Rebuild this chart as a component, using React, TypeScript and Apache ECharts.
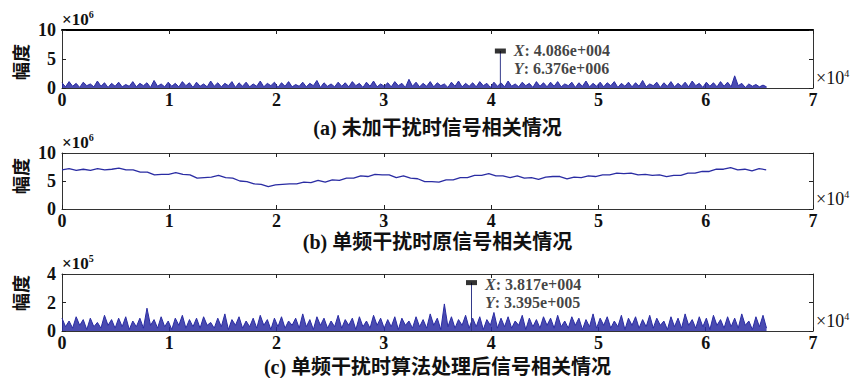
import React, { useEffect, useRef } from "react";
import * as echarts from "echarts";

// x sample step (units of 10^4) for the dense correlation traces
const DENSE_STEP = 0.033;
const SLOW_STEP = 0.0663;

// (a) correlation without interference, units of 10^6
const traceA = [
  0.9, 0.2, 1.1, 0.3, 0.8, 0.1, 1.0, 0.4, 0.7, 0.2, 1.2, 0.3, 0.9, 0.1, 0.8, 0.3, 1.0, 0.2, 0.6, 0.3,
  1.1, 0.2, 0.8, 0.4, 0.9, 0.1, 1.3, 0.3, 0.7, 0.2, 1.0, 0.3, 0.8, 0.2, 1.1, 0.4, 0.9, 0.1, 1.0, 0.3,
  0.7, 0.2, 1.2, 0.3, 0.9, 0.2, 0.8, 0.4, 1.1, 0.1, 0.9, 0.3, 1.0, 0.2, 0.7, 0.3, 1.2, 0.2, 0.8, 0.4,
  1.0, 0.1, 0.9, 0.3, 1.1, 0.2, 0.6, 0.3, 1.0, 0.2, 0.8, 0.4, 1.3, 0.1, 0.9, 0.3, 0.7, 0.2, 1.0, 0.3,
  0.9, 0.2, 1.1, 0.4, 0.8, 0.1, 1.0, 0.3, 1.2, 0.2, 0.7, 0.3, 0.9, 0.2, 1.1, 0.4, 0.8, 0.1, 1.5, 0.3,
  1.0, 0.2, 0.8, 0.3, 1.1, 0.2, 0.9, 0.4, 0.7, 0.1, 1.0, 0.3, 1.2, 0.2, 0.8, 0.3, 0.9, 0.2, 1.1, 0.4,
  0.8, 0.1, 1.0, 0.3, 0.9, 0.2, 1.2, 0.3, 0.7, 0.2, 1.0, 0.4, 0.8, 0.1, 1.1, 0.3, 0.9, 0.2, 1.0, 0.3,
  1.1, 0.2, 0.7, 0.4, 1.0, 0.1, 0.9, 0.3, 1.2, 0.2, 0.8, 0.3, 1.0, 0.2, 0.9, 0.4, 1.1, 0.1, 0.8, 0.3,
  1.0, 0.2, 0.9, 0.3, 1.3, 0.2, 0.7, 0.4, 1.0, 0.1, 0.9, 0.3, 1.1, 0.2, 0.8, 0.3, 1.0, 0.2, 1.2, 0.4,
  0.8, 0.1, 1.0, 0.3, 0.9, 0.2, 1.1, 0.3, 1.0, 0.2, 2.1, 0.4, 0.8, 0.1, 0.7, 0.3, 0.6, 0.2, 0.5, 0.2,
];

// (b) single-tone interference, original signal correlation, units of 10^6
const traceB = [
  7.0, 7.2, 6.9, 7.1, 6.9, 7.2, 7.0, 7.1, 7.3, 7.0,
  7.0, 6.6, 6.6, 6.1, 6.2, 6.2, 6.5, 6.2, 6.1, 5.5,
  5.6, 5.7, 6.0, 5.6, 5.5, 5.0, 4.9, 4.5, 4.4, 4.0,
  4.3, 4.4, 4.5, 4.5, 4.8, 4.7, 5.1, 4.8, 5.2, 5.1,
  5.5, 5.5, 5.9, 5.8, 6.2, 6.1, 6.1, 5.6, 5.9, 5.5,
  5.4, 4.9, 4.9, 4.8, 5.2, 5.2, 5.6, 5.6, 6.0, 6.0,
  6.3, 5.9, 5.9, 5.6, 5.9, 5.5, 5.6, 5.3, 5.7, 5.8,
  5.8, 5.4, 5.7, 5.6, 5.9, 5.8, 6.1, 6.1, 6.4, 6.3,
  6.4, 6.1, 6.2, 6.0, 6.1, 5.8, 6.0, 6.0, 6.4, 6.4,
  6.7, 6.7, 7.1, 7.1, 7.4, 7.0, 7.1, 6.8, 7.2, 7.0,
];

// (c) after algorithm processing, units of 10^5
const traceC = [
  0.9, 0.3, 0.7, 0.2, 1.0, 0.4, 0.8, 0.1, 0.9, 0.3, 0.6, 0.2, 1.1, 0.4, 0.8, 0.2, 0.9, 0.3, 1.0, 0.1,
  0.7, 0.3, 0.9, 0.2, 1.6, 0.4, 0.8, 0.2, 1.0, 0.3, 0.7, 0.1, 0.9, 0.4, 1.1, 0.2, 0.8, 0.3, 0.9, 0.2,
  1.0, 0.4, 0.6, 0.2, 0.9, 0.3, 1.2, 0.1, 0.8, 0.4, 1.0, 0.2, 0.7, 0.3, 0.9, 0.2, 1.1, 0.4, 0.8, 0.1,
  0.9, 0.3, 1.0, 0.2, 0.7, 0.4, 0.9, 0.2, 1.2, 0.3, 0.8, 0.1, 1.0, 0.4, 0.9, 0.2, 0.7, 0.3, 1.1, 0.2,
  0.8, 0.4, 0.9, 0.1, 1.0, 0.3, 0.7, 0.2, 1.1, 0.4, 0.9, 0.2, 0.8, 0.3, 1.0, 0.1, 0.9, 0.4, 0.7, 0.2,
  1.0, 0.3, 0.8, 0.2, 1.2, 0.4, 0.9, 0.1, 1.9, 0.3, 1.0, 0.2, 0.8, 0.4, 1.1, 0.2, 0.9, 0.3, 1.0, 0.1,
  0.8, 0.4, 1.3, 0.2, 0.9, 0.3, 1.0, 0.2, 0.7, 0.4, 1.1, 0.1, 0.9, 0.3, 0.8, 0.2, 1.0, 0.4, 0.9, 0.2,
  1.1, 0.3, 0.7, 0.2, 1.0, 0.4, 0.9, 0.1, 0.8, 0.3, 1.2, 0.2, 0.9, 0.4, 1.0, 0.2, 0.7, 0.3, 1.1, 0.1,
  0.9, 0.4, 1.0, 0.2, 0.8, 0.3, 1.1, 0.2, 0.9, 0.4, 0.7, 0.1, 1.0, 0.3, 0.9, 0.2, 1.2, 0.4, 0.8, 0.2,
  1.0, 0.3, 0.9, 0.1, 1.1, 0.4, 0.8, 0.2, 1.0, 0.3, 0.9, 0.2, 1.2, 0.4, 0.7, 0.1, 1.0, 0.3, 1.1, 0.2,
];

// data tips (raw units)
const tipA = [40860, 6376000];
const tipC = [38170, 339500];

const xTicks = ["0", "1", "2", "3", "4", "5", "6", "7"];
const titles = [
  "(a) 未加干扰时信号相关情况",
  "(b) 单频干扰时原信号相关情况",
  "(c) 单频干扰时算法处理后信号相关情况",
];
const yMax = [10, 10, 4];
const yInterval = [5, 5, 2];
const yExp = ["6", "6", "5"];
const yScale = [1e6, 1e6, 1e5];
const xScale = 1e4;
const yName = "幅度";

const BLUE = "#2a2ca3";
const SERIF = "'Liberation Serif', 'Times New Roman', serif";
const CJK = "'Liberation Serif', 'Noto Sans CJK SC', serif";

const grids = [
  { top: 30, height: 58 },
  { top: 153, height: 56 },
  { top: 274, height: 57 },
];
const LEFT = 62;
const RIGHT_EDGE = 813;

function matlabExp(v: number) {
  const [m, e] = v.toExponential(3).split("e");
  const sign = e[0];
  return m + "e" + sign + e.slice(1).padStart(3, "0");
}

function App() {
  const ref = useRef<HTMLDivElement>(null);
  useEffect(() => {
    if (!ref.current) return;
    const chart = echarts.init(ref.current, undefined, { renderer: "svg" });

    const xAxes: any[] = [];
    const yAxes: any[] = [];
    grids.forEach((g, k) => {
      const common = {
        type: "value",
        gridIndex: k,
        min: 0,
        max: 7,
        interval: 1,
        splitLine: { show: false },
        axisTick: { inside: true, length: 4, lineStyle: { color: "#222" } },
      };
      xAxes.push({
        ...common,
        position: "bottom",
        axisLine: { onZero: false, lineStyle: { color: "#333", width: 1 } },
        axisLabel: {
          margin: 5,
          color: "#111",
          fontFamily: SERIF,
          fontWeight: "bold",
          fontSize: 18,
          lineHeight: 14,
          formatter: (v: number) => xTicks[Math.round(v)] ?? "",
        },
      });
      xAxes.push({
        ...common,
        position: "top",
        axisLine: { onZero: false, lineStyle: { color: k === 0 ? "#000" : "#333", width: k === 0 ? 2 : 1 } },
        axisLabel: { show: false },
      });
      const ycommon = {
        type: "value",
        gridIndex: k,
        min: 0,
        max: yMax[k],
        interval: yInterval[k],
        splitLine: { show: false },
        axisTick: { inside: true, length: 4, lineStyle: { color: "#222" } },
      };
      yAxes.push({
        ...ycommon,
        position: "left",
        axisLine: { show: true, onZero: false, lineStyle: { color: "#333" } },
        axisLabel: {
          margin: 6,
          color: "#111",
          fontFamily: SERIF,
          fontWeight: "bold",
          fontSize: 18,
        },
      });
      yAxes.push({
        ...ycommon,
        position: "right",
        axisLine: { show: true, onZero: false, lineStyle: { color: "#333" } },
        axisLabel: { show: false },
      });
    });

    const tipLabel = (tip: number[], k: number) => ({
      show: true,
      position: "right",
      distance: 8,
      offset: [0, k === 0 ? 8 : 11],
      lineHeight: 18,
      formatter:
        "{i|X}{n|: " + matlabExp(tip[0]) + "}\n{i|Y}{n|: " + matlabExp(tip[1]) + "}",
      rich: {
        i: { fontFamily: SERIF, fontStyle: "italic", fontWeight: "bold", fontSize: 16, color: "#111", lineHeight: 18 },
        n: { fontFamily: SERIF, fontWeight: "bold", fontSize: 16, color: "#111", lineHeight: 18 },
      },
    });

    const denseLine = (vals: number[], k: number) => ({
      type: "line",
      xAxisIndex: 2 * k,
      yAxisIndex: 2 * k,
      data: vals.map((v, i) => [i * DENSE_STEP, v]),
      showSymbol: false,
      symbol: "none",
      lineStyle: { color: BLUE, width: 1 },
      areaStyle: { color: BLUE, opacity: 0.85 },
      silent: true,
    });
    const spike = (tip: number[], k: number) => ({
      type: "line",
      xAxisIndex: 2 * k,
      yAxisIndex: 2 * k,
      data: [
        [tip[0] / xScale, 0],
        [tip[0] / xScale, tip[1] / yScale[k]],
      ],
      symbol: "none",
      lineStyle: { color: "#333a8a", width: 1 },
    });
    const marker = (tip: number[], k: number) => ({
      type: "scatter",
      xAxisIndex: 2 * k,
      yAxisIndex: 2 * k,
      data: [[tip[0] / xScale, tip[1] / yScale[k]]],
      symbol: "rect",
      symbolSize: [11, 5],
      itemStyle: { color: "#000" },
      label: tipLabel(tip, k),
      z: 5,
    });

    const series: any[] = [
      denseLine(traceA, 0),
      spike(tipA, 0),
      marker(tipA, 0),
      {
        type: "line",
        xAxisIndex: 2,
        yAxisIndex: 2,
        data: traceB.map((v, i) => [i * SLOW_STEP, v]),
        symbol: "none",
        lineStyle: { color: BLUE, width: 1.3 },
      },
      denseLine(traceC, 2),
      spike(tipC, 2),
      marker(tipC, 2),
    ];

    const graphic: any[] = [];
    const yNameCenters = [62, 176, 293];
    const titleY = [128, 242, 367];
    grids.forEach((g, k) => {
      const bottom = g.top + g.height;
      // exponent above y axis
      graphic.push({
        type: "text",
        x: LEFT,
        y: g.top - 11,
        style: {
          text: "×10{s|" + yExp[k] + "}",
          fontSize: 17,
          fontWeight: "bold",
          fontFamily: SERIF,
          fill: "#111",
          textAlign: "left",
          textVerticalAlign: "middle",
          align: "left",
          verticalAlign: "middle",
          rich: { s: { fontSize: 10, fontWeight: "bold", fontFamily: SERIF, padding: [0, 0, 9, 0] } },
        },
      });
      // exponent for x axis
      graphic.push({
        type: "text",
        x: RIGHT_EDGE + 3,
        y: bottom - 10,
        style: {
          text: "×10{s|4}",
          fontSize: 18,
          fontFamily: SERIF,
          fill: "#111",
          textAlign: "left",
          textVerticalAlign: "middle",
          align: "left",
          verticalAlign: "middle",
          rich: { s: { fontSize: 10, fontFamily: SERIF, padding: [0, 0, 9, 0] } },
        },
      });
      // y name
      graphic.push({
        type: "text",
        x: 20,
        y: yNameCenters[k],
        rotation: Math.PI / 2,
        style: {
          text: yName,
          font: "bold 18px 'Noto Sans CJK SC', sans-serif",
          fill: "#111",
          textAlign: "center",
          textVerticalAlign: "middle",
          align: "center",
          verticalAlign: "middle",
        },
      });
      // subplot title
      graphic.push({
        type: "text",
        x: (LEFT + RIGHT_EDGE) / 2,
        y: titleY[k],
        style: {
          text: titles[k],
          font: "bold 20px " + CJK,
          lineHeight: 16,
          fill: "#111",
          textAlign: "center",
          textVerticalAlign: "middle",
          align: "center",
          verticalAlign: "middle",
        },
      });
    });

    chart.setOption({
      animation: false,
      backgroundColor: "#fff",
      grid: grids.map((g) => ({ left: LEFT, right: 858 - RIGHT_EDGE, top: g.top, height: g.height })),
      xAxis: xAxes,
      yAxis: yAxes,
      series,
      graphic,
    });
    return () => chart.dispose();
  }, []);
  return (
    <div
      ref={ref}
      style={{ position: "fixed", left: 0, top: 0, width: 858, height: 378, background: "#fff" }}
    />
  );
}

export default App;
